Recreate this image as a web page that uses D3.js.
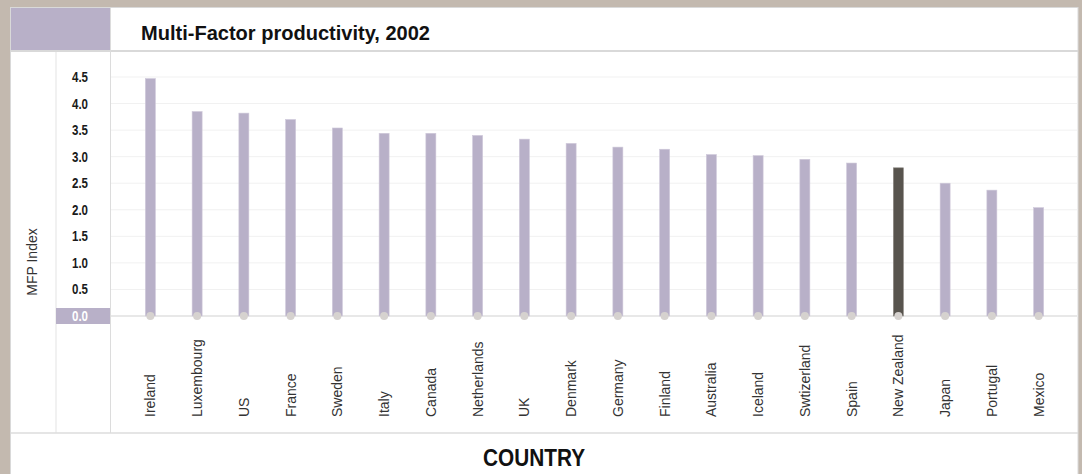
<!DOCTYPE html>
<html>
<head>
<meta charset="utf-8">
<script src="https://cdn.jsdelivr.net/npm/d3@7"></script>
<style>
  body { margin: 0; background: #c3b9af; }
  svg { display: block; }
</style>
</head>
<body>
<div id="chart"></div>
<script>
const countries = ['Ireland', 'Luxembourg', 'US', 'France', 'Sweden', 'Italy', 'Canada',
    'Netherlands', 'UK', 'Denmark', 'Germany', 'Finland', 'Australia', 'Iceland',
    'Swtizerland', 'Spain', 'New Zealand', 'Japan', 'Portugal', 'Mexico'];
const mfp = [4.47, 3.85, 3.82, 3.70, 3.54, 3.44, 3.44, 3.40, 3.33, 3.25, 3.18, 3.14,
    3.04, 3.02, 2.95, 2.88, 2.79, 2.50, 2.37, 2.04];
const yTicks = [0, 0.5, 1.0, 1.5, 2.0, 2.5, 3.0, 3.5, 4.0, 4.5];
const highlight = 'New Zealand';

const width = 1082, height = 474;
const font = '"Liberation Sans", Arial, sans-serif';

const svg = d3.select('#chart').append('svg')
    .attr('width', width)
    .attr('height', height);

// white panel
svg.append('rect')
    .attr('x', 10.5).attr('y', 7.5)
    .attr('width', 1067.5).attr('height', 480)
    .attr('fill', '#fff')
    .attr('stroke', '#d9d9d9');

// header purple block
svg.append('rect')
    .attr('x', 11).attr('y', 8)
    .attr('width', 99).attr('height', 42)
    .attr('fill', '#b8b0c8');

const x = d3.scaleBand()
    .domain(countries)
    .range([127, 1062]);

const y = d3.scaleLinear()
    .domain([0, 4.5])
    .range([316, 77]);

// frame lines
svg.append('line').attr('x1', 11).attr('x2', 1078).attr('y1', 51).attr('y2', 51)
    .attr('stroke', '#d9d9d9').attr('stroke-width', 2);
svg.append('line').attr('x1', 110.5).attr('x2', 110.5).attr('y1', 8).attr('y2', 433)
    .attr('stroke', '#dcdcdc');
svg.append('line').attr('x1', 56).attr('x2', 56).attr('y1', 52).attr('y2', 433)
    .attr('stroke', '#e3e3e3');
svg.append('line').attr('x1', 11).attr('x2', 1078).attr('y1', 433).attr('y2', 433)
    .attr('stroke', '#dcdcdc').attr('stroke-width', 1.5);

// gridlines
svg.append('g')
    .selectAll('line')
    .data(yTicks.filter(d => d > 0))
    .enter()
    .append('line')
    .attr('x1', 111).attr('x2', 1077)
    .attr('y1', d => y(d)).attr('y2', d => y(d))
    .attr('stroke', '#f1f1f1');

// baseline
svg.append('line').attr('x1', 111).attr('x2', 1077)
    .attr('y1', y(0)).attr('y2', y(0))
    .attr('stroke', '#e0e0e0').attr('stroke-width', 1.5);

// zero label box
svg.append('rect')
    .attr('x', 56).attr('y', y(0) - 8)
    .attr('width', 54).attr('height', 16)
    .attr('fill', '#b8b0c8');

// y tick labels (condensed look via textLength)
svg.append('g')
    .selectAll('text')
    .data(yTicks)
    .enter()
    .append('text')
    .attr('x', 72)
    .attr('y', d => y(d) + 5)
    .attr('textLength', 16)
    .attr('lengthAdjust', 'spacingAndGlyphs')
    .style('font-family', font)
    .style('font-weight', 'bold')
    .style('font-size', '14px')
    .style('fill', d => d === 0 ? '#fff' : '#1a1a1a')
    .text(d => d.toFixed(1));

// bars
const barW = 10;
svg.append('g')
    .selectAll('rect')
    .data(countries)
    .enter()
    .append('rect')
    .attr('x', d => x(d) + x.bandwidth() / 2 - barW / 2)
    .attr('y', (d, i) => y(mfp[i]))
    .attr('width', barW)
    .attr('height', (d, i) => y(0) - y(mfp[i]))
    .attr('fill', d => d === highlight ? '#58544e' : '#b8b0c8')
    .attr('stroke', d => d === highlight ? '#8a8680' : '#cfc9da')
    .attr('stroke-width', 0.6);

// baseline dots
svg.append('g')
    .selectAll('circle')
    .data(countries)
    .enter()
    .append('circle')
    .attr('cx', d => x(d) + x.bandwidth() / 2)
    .attr('cy', y(0))
    .attr('r', 4)
    .attr('fill', '#d6d2cf');

// category labels
svg.append('g')
    .selectAll('text')
    .data(countries)
    .enter()
    .append('text')
    .attr('transform', d => `translate(${x(d) + x.bandwidth() / 2 + 5},417) rotate(-90)`)
    .attr('text-anchor', 'start')
    .style('font-family', font)
    .style('font-size', '14px')
    .style('fill', '#333')
    .text(d => d);

// y axis title
svg.append('text')
    .attr('transform', 'translate(37,262) rotate(-90)')
    .attr('text-anchor', 'middle')
    .style('font-family', font)
    .style('font-size', '14px')
    .style('fill', '#333')
    .text('MFP Index');

// chart title
svg.append('text')
    .attr('x', 141).attr('y', 40)
    .attr('textLength', 289)
    .attr('lengthAdjust', 'spacingAndGlyphs')
    .style('font-family', font)
    .style('font-weight', 'bold')
    .style('font-size', '20.5px')
    .style('fill', '#111')
    .text('Multi-Factor productivity, 2002');

// x axis title
svg.append('text')
    .attr('x', 483).attr('y', 466)
    .attr('textLength', 102)
    .attr('lengthAdjust', 'spacingAndGlyphs')
    .style('font-family', font)
    .style('font-weight', 'bold')
    .style('font-size', '24px')
    .style('fill', '#111')
    .text('COUNTRY');
</script>
</body>
</html>
